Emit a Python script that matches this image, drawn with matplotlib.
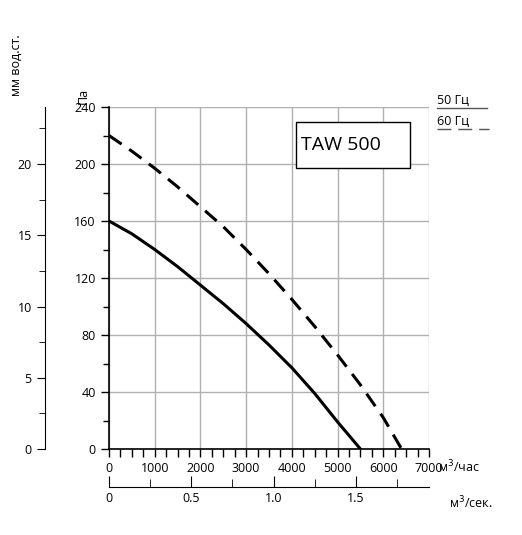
import matplotlib.pyplot as plt
from matplotlib.ticker import MultipleLocator

# 50 Hz curve (m3/h, Pa)
flow_50 = [0, 500, 1000, 1500, 2000, 2500, 3000, 3500, 4000, 4500, 5000, 5500]
pres_50 = [160, 151, 140, 128, 115, 102, 88, 73, 57, 39, 19, 0]
# 60 Hz curve
flow_60 = [0, 500, 1000, 1500, 2000, 2500, 3000, 3500, 4000, 4500, 5000, 5500, 6000, 6400]
pres_60 = [220, 209, 197, 184, 170, 156, 140, 123, 105, 86, 66, 45, 22, 0]

W, H = 522, 535
fig = plt.figure(figsize=(W / 100, H / 100), dpi=100)
plt.rcParams['font.family'] = ['Open Sans', 'DejaVu Sans']


def box(x0, y0, x1, y1):
    return [x0 / W, 1 - y1 / H, (x1 - x0) / W, (y1 - y0) / H]


ax = fig.add_axes(box(109, 107, 429, 449))
ax.plot(flow_50, pres_50, color='black', lw=2.2)
ax.plot(flow_60, pres_60, color='black', lw=2.2, ls=(0, (5, 3)))
ax.set_xlim(0, 7000)
ax.set_ylim(0, 240)
ax.xaxis.set_major_locator(MultipleLocator(1000))
ax.xaxis.set_minor_locator(MultipleLocator(250))
ax.yaxis.set_major_locator(MultipleLocator(40))
ax.yaxis.set_minor_locator(MultipleLocator(20))
ax.grid(True, which='major', color='#b0b0b0', lw=1)
for s in ['top', 'right']:
    ax.spines[s].set_visible(False)
for s in ['left', 'bottom']:
    ax.spines[s].set_linewidth(1.2)
ax.tick_params(which='major', length=6, labelsize=9, width=1)
ax.tick_params(which='minor', length=6, width=1)
ax.tick_params(axis='y', which='minor', length=4)
ax.text(-0.08, 1.01, 'Па', transform=ax.transAxes, rotation=90, fontsize=9,
        ha='center', va='bottom')
ax.add_patch(plt.Rectangle((0.584, 0.822), 0.356, 0.134, transform=ax.transAxes,
                           fill=True, fc='white', ec='black', lw=1, zorder=5))
ax.text(0.6, 0.889, 'TAW 500', transform=ax.transAxes, fontsize=14,
        va='center', zorder=6)
fig.text(438 / W, 1 - 467 / H, 'м$^3$/час', fontsize=9, va='center')

# m3/s axis
ax2 = fig.add_axes(box(109, 470, 429, 487))
ax2.set_xlim(0, 7000 / 3600)
ax2.patch.set_visible(False)
for s in ['top', 'right', 'left']:
    ax2.spines[s].set_visible(False)
ax2.set_yticks([])
ax2.xaxis.set_minor_locator(MultipleLocator(0.25))
ax2.set_xticks([0, 0.5, 1.0, 1.5])
ax2.set_xticklabels(['0', '0.5', '1.0', '1.5'])
ax2.tick_params(direction='in', which='major', length=8, labelsize=9)
ax2.tick_params(direction='in', which='minor', length=6)
fig.text(449 / W, 1 - 503 / H, 'м$^3$/сек.', fontsize=9, va='center')

# mm water column axis
ax3 = fig.add_axes(box(45, 107, 60, 449))
ax3.set_ylim(0, 24)
ax3.patch.set_visible(False)
for s in ['top', 'right', 'bottom']:
    ax3.spines[s].set_visible(False)
ax3.set_xticks([])
ax3.yaxis.set_major_locator(MultipleLocator(5))
ax3.yaxis.set_minor_locator(MultipleLocator(2.5))
ax3.tick_params(which='major', length=6, labelsize=9)
ax3.tick_params(which='minor', length=4)
fig.text(16 / W, 1 - 65 / H, 'мм вод.ст.', rotation=90, fontsize=9,
         ha='center', va='center')

# legend
fig.text(437 / W, 1 - 100 / H, '50 Гц', fontsize=9, va='center')
fig.text(437 / W, 1 - 121 / H, '60 Гц', fontsize=9, va='center')
fig.add_artist(plt.Line2D([437 / W, 487 / W], [1 - 108 / H] * 2, color='#555', lw=1))
fig.add_artist(plt.Line2D([437 / W, 489 / W], [1 - 129 / H] * 2, color='#555', lw=1,
                          ls=(0, (10, 5))))

fig.savefig('out.png', dpi=100)
